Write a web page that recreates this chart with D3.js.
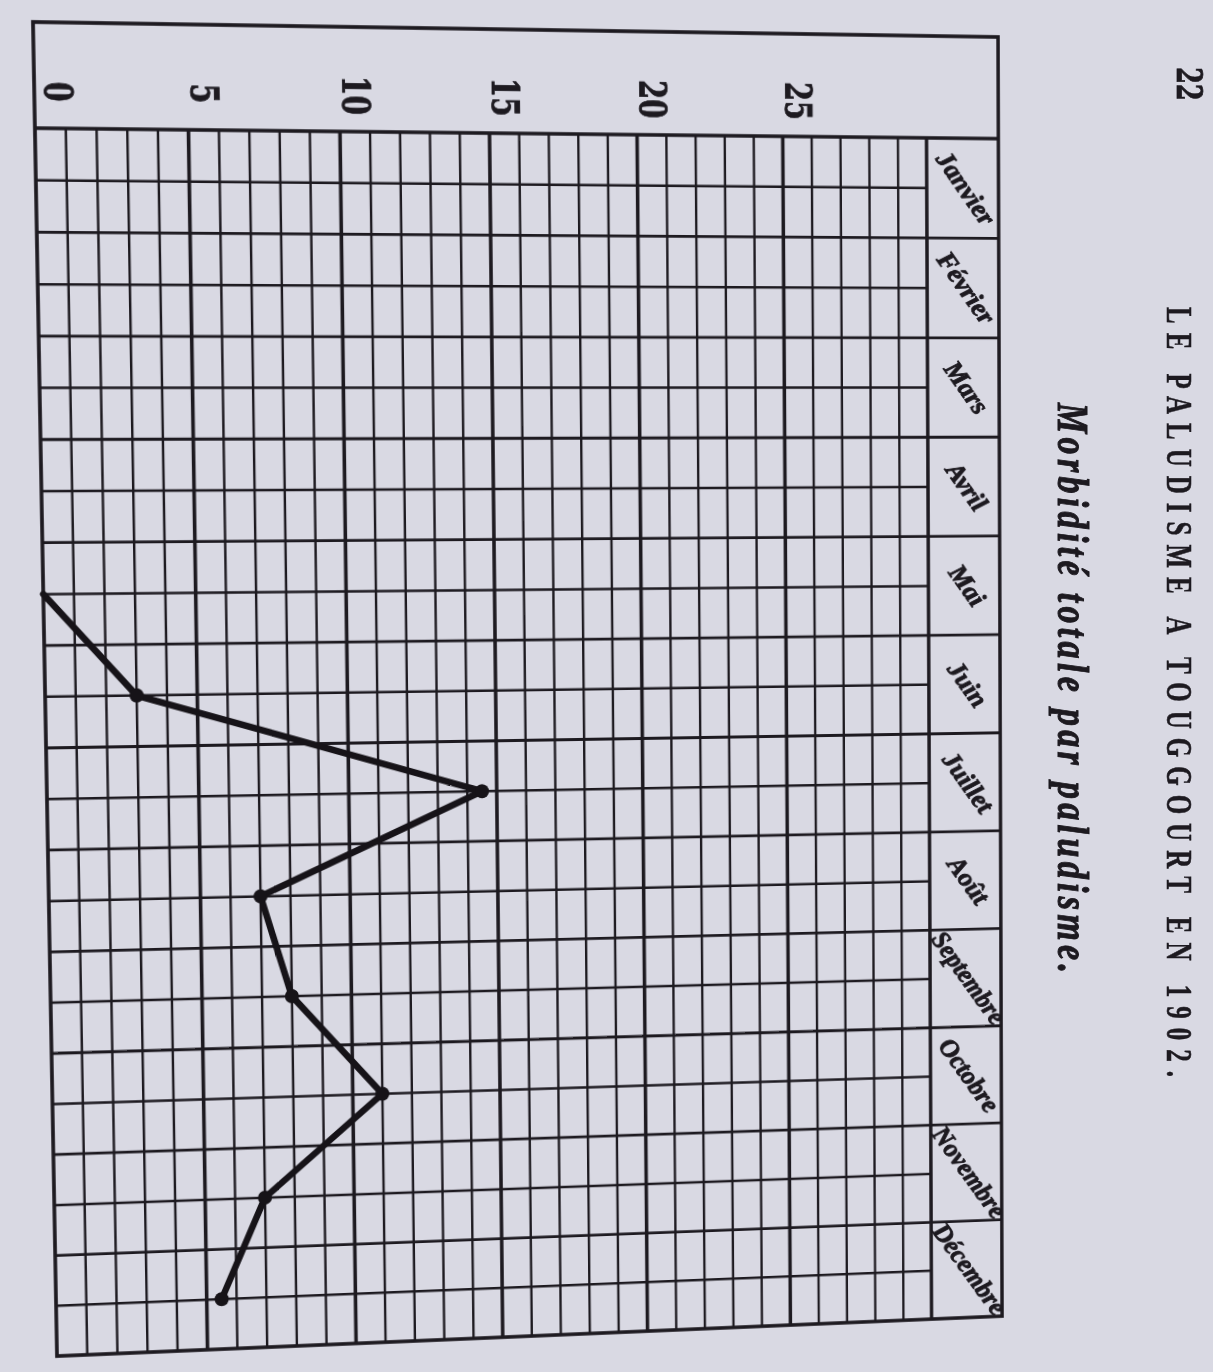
<!DOCTYPE html>
<html>
<head>
<meta charset="utf-8">
<title>Le paludisme a Touggourt en 1902</title>
<script src="https://d3js.org/d3.v7.min.js"></script>
<style>
  body { margin: 0; background: #d9d9e3; }
  #page { position: relative; width: 1213px; height: 1372px; overflow: hidden; background: #d9d9e3; }
  #page svg { position: absolute; left: 0; top: 0; }
  #chart { transform-origin: 0 0; }
</style>
</head>
<body>
<div id="page"></div>
<script>
// data
var months = ["Janvier", "Février", "Mars", "Avril", "Mai", "Juin", "Juillet",
              "Août", "Septembre", "Octobre", "Novembre", "Décembre"];
var cases = [null, null, null, null, 0, 3, 14.5, 7, 8, 11, 7, 5.5];
var valueTicks = [0, 5, 10, 15, 20, 25];
var pageNumber = "22";
var title = "LE PALUDISME A TOUGGOURT EN 1902.";
var subtitle = "Morbidité totale par paludisme.";

var W = 1213, H = 1372;
var ink = "#1d1a20";

// flat layout of the chart (before the photo warp)
var fl = 33, fr = 1000, ft = 22, fb = 1316, hb = 123, mc = 925;

var x = d3.scaleLinear().domain([0, 30]).range([fl, mc]);
var y = d3.scaleBand().domain(months).range([hb, fb]);
var bw = y.bandwidth();

var page = d3.select("#page");

// ---- chart layer (warped like the photographed page)
var svg = page.append("svg")
    .attr("id", "chart")
    .attr("width", W)
    .attr("height", H);

var g = svg.append("g")
    .attr("stroke", ink)
    .attr("fill", "none");

// vertical grid lines, every unit, heavier every 5
g.selectAll("line.v")
  .data(d3.range(1, 31))
  .enter().append("line")
    .attr("class", "v")
    .attr("x1", function(d) { return x(d); })
    .attr("x2", function(d) { return x(d); })
    .attr("y1", hb)
    .attr("y2", fb)
    .attr("stroke-width", function(d) { return d % 5 == 0 ? 3.6 : 2.4; });

// half-month lines (grid only)
g.selectAll("line.half")
  .data(months)
  .enter().append("line")
    .attr("class", "half")
    .attr("x1", fl)
    .attr("x2", mc)
    .attr("y1", function(d) { return y(d) + bw / 2; })
    .attr("y2", function(d) { return y(d) + bw / 2; })
    .attr("stroke-width", 2.5);

// month boundaries, across the label column too
g.selectAll("line.month")
  .data(months.slice(1))
  .enter().append("line")
    .attr("class", "month")
    .attr("x1", fl)
    .attr("x2", fr)
    .attr("y1", function(d) { return y(d); })
    .attr("y2", function(d) { return y(d); })
    .attr("stroke-width", 2.8);

g.append("line")
    .attr("x1", fl).attr("x2", fr)
    .attr("y1", hb).attr("y2", hb)
    .attr("stroke-width", 3.4);

g.append("rect")
    .attr("x", fl).attr("y", ft)
    .attr("width", fr - fl).attr("height", fb - ft)
    .attr("stroke-width", 3.6);

// value labels in the head band
svg.selectAll("text.tick")
  .data(valueTicks)
  .enter().append("text")
    .attr("class", "tick")
    .attr("transform", function(d) {
      return "translate(" + (x(d) + (d == 0 ? 10 : 3)) + ",88) rotate(90) scale(1,1.4)";
    })
    .attr("text-anchor", "middle")
    .attr("font-family", "DejaVu Serif")
    .attr("font-weight", "bold")
    .attr("font-size", 27)
    .attr("fill", ink)
    .attr("stroke", ink)
    .attr("stroke-width", 0.6)
    .text(function(d) { return d; });

// month names, written across their cells
svg.selectAll("text.month")
  .data(months)
  .enter().append("text")
    .attr("class", "month")
    .attr("transform", function(d) {
      return "translate(" + ((mc + fr) / 2 + 3) + "," + (y(d) + bw / 2) + ") rotate(54)";
    })
    .attr("text-anchor", "middle")
    .attr("dy", "0.32em")
    .attr("font-family", "Liberation Serif")
    .attr("font-weight", "bold")
    .attr("font-style", "italic")
    .attr("font-size", 27)
    .attr("fill", ink)
    .attr("stroke", ink)
    .attr("stroke-width", 0.9)
    .text(function(d) { return d; })
    .each(function() {
      var len = this.getComputedTextLength();
      if (len > 112) {
        d3.select(this).attr("textLength", 112).attr("lengthAdjust", "spacingAndGlyphs");
      }
    });

// the curve
var points = months.map(function(m, i) { return { month: m, value: cases[i] }; });

var line = d3.line()
    .defined(function(d) { return d.value != null; })
    .x(function(d) { return x(d.value); })
    .y(function(d) { return y(d.month) + bw / 2; });

svg.append("path")
    .datum(points)
    .attr("d", line)
    .attr("fill", "none")
    .attr("stroke", "#161318")
    .attr("stroke-width", 6.5)
    .attr("stroke-linejoin", "round")
    .attr("stroke-linecap", "round");

svg.selectAll("circle.pt")
  .data(points.filter(function(d) { return d.value != null && d.value > 0; }))
  .enter().append("circle")
    .attr("class", "pt")
    .attr("cx", function(d) { return x(d.value); })
    .attr("cy", function(d) { return y(d.month) + bw / 2; })
    .attr("r", 7)
    .attr("fill", "#161318");

// warp the flat chart onto the photographed quad
function solve(A, b) {
  var n = b.length;
  for (var i = 0; i < n; i++) A[i].push(b[i]);
  for (var c = 0; c < n; c++) {
    var p = c;
    for (var r = c + 1; r < n; r++) if (Math.abs(A[r][c]) > Math.abs(A[p][c])) p = r;
    var t = A[c]; A[c] = A[p]; A[p] = t;
    for (var r = 0; r < n; r++) {
      if (r === c) continue;
      var f = A[r][c] / A[c][c];
      for (var k = c; k <= n; k++) A[r][k] -= f * A[c][k];
    }
  }
  return A.map(function(row, i) { return row[n] / row[i]; });
}

function homography(src, dst) {
  var A = [], b = [];
  for (var i = 0; i < 4; i++) {
    var sx = src[i][0], sy = src[i][1], u = dst[i][0], v = dst[i][1];
    A.push([sx, sy, 1, 0, 0, 0, -u * sx, -u * sy]); b.push(u);
    A.push([0, 0, 0, sx, sy, 1, -v * sx, -v * sy]); b.push(v);
  }
  var h = solve(A, b);
  return [h[0], h[3], 0, h[6],
          h[1], h[4], 0, h[7],
          0, 0, 1, 0,
          h[2], h[5], 0, 1];
}

var m3 = homography(
  [[fl, ft], [fr, ft], [fr, fb], [fl, fb]],
  [[33, 22], [998, 37], [1002, 1316], [57, 1356]]);
svg.style("transform", "matrix3d(" + m3.join(",") + ")");

// ---- page text (not warped)
var txt = page.append("svg")
    .attr("width", W)
    .attr("height", H);

txt.append("text")
    .attr("transform", "translate(1177,84) rotate(90) scale(1,1.5)")
    .attr("text-anchor", "middle")
    .attr("font-family", "DejaVu Serif")
    .attr("font-weight", "bold")
    .attr("font-size", 24)
    .attr("fill", ink)
    .attr("stroke", ink)
    .attr("stroke-width", 0.5)
    .text(pageNumber);

txt.append("text")
    .attr("transform", "translate(1167,307) rotate(90) scale(1,1.4)")
    .attr("font-family", "Liberation Serif")
    .attr("font-weight", "bold")
    .attr("font-size", 25)
    .attr("fill", ink)
    .attr("stroke", ink)
    .attr("stroke-width", 0.4)
    .attr("textLength", 770)
    .attr("lengthAdjust", "spacing")
    .text(title);

txt.append("text")
    .attr("transform", "translate(1058,403) rotate(90) scale(1,1.3)")
    .attr("font-family", "Liberation Serif")
    .attr("font-weight", "bold")
    .attr("font-style", "italic")
    .attr("font-size", 34)
    .attr("fill", ink)
    .attr("stroke", ink)
    .attr("stroke-width", 0.8)
    .attr("textLength", 570)
    .attr("lengthAdjust", "spacing")
    .text(subtitle);
</script>
</body>
</html>
